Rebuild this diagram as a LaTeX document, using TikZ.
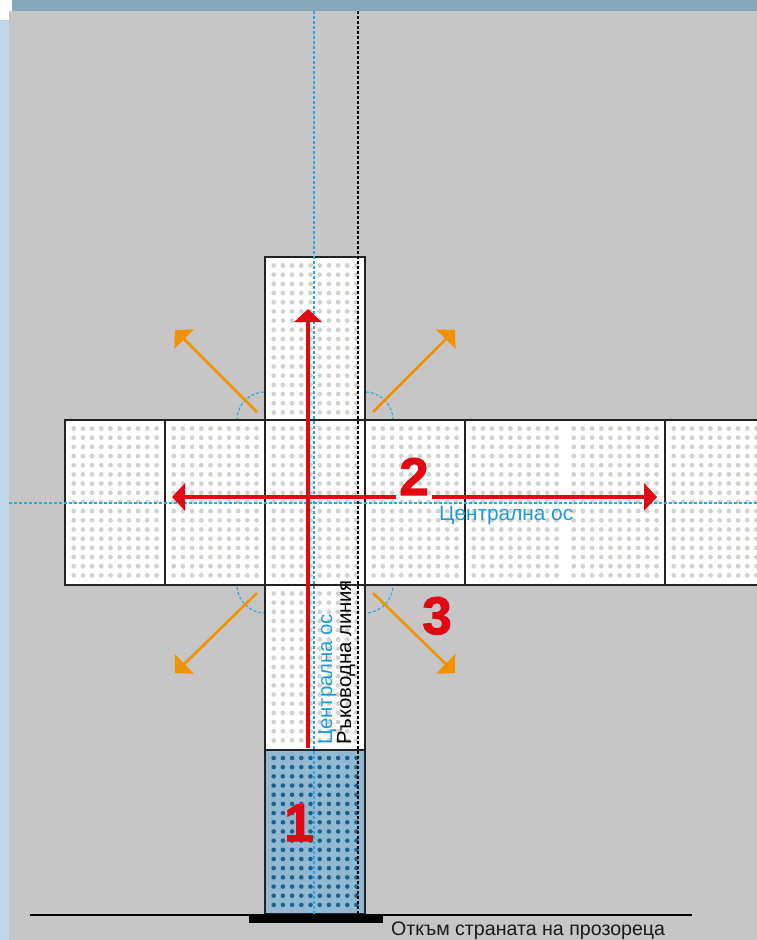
\documentclass[tikz,border=0pt]{standalone}
\usepackage{fontspec}
\setmainfont{Liberation Sans}
\newfontfamily\numfont[FakeBold=2]{Liberation Sans Bold}
\usepackage{tikz}
\usetikzlibrary{arrows.meta}
\definecolor{BgGrey}{RGB}{197,198,197}
\definecolor{TopBand}{RGB}{132,167,185}
\definecolor{SideBlue}{RGB}{190,214,230}
\definecolor{DotGrey}{RGB}{210,210,204}
\definecolor{TileBlue}{RGB}{145,185,210}
\definecolor{DotBlue}{RGB}{29,98,140}
\definecolor{TileEdge}{RGB}{35,35,35}
\definecolor{MarkRed}{RGB}{227,6,19}
\definecolor{ArrowOrange}{RGB}{243,146,0}
\definecolor{AxisBlue}{RGB}{41,167,224}
\definecolor{TextBlue}{RGB}{30,155,215}

\begin{document}
\begin{tikzpicture}[x=1pt, y=-1pt,
	tile/.style={fill=white, draw=TileEdge, line width=1.5pt},
	axis/.style={AxisBlue, line width=1.1pt, dash pattern=on 3pt off 2pt},
	guide/.style={black, line width=1.1pt, dash pattern=on 3pt off 2pt},
	redarrow/.style={MarkRed, line width=3.2pt, -{Triangle[length=13pt, width=27pt]}},
	orangearrow/.style={ArrowOrange, line width=2.6pt, -{Triangle[length=13pt, width=27pt]}},
	num/.style={MarkRed, font=\fontsize{53}{53}\selectfont\numfont, inner sep=0pt},
	label/.style={font=\fontsize{20.3}{20.3}\selectfont, inner sep=0pt}]
		\useasboundingbox (0,0) rectangle (757,940);
		\clip (0,0) rectangle (757,940);
		\fill[TopBand] (12,0) rectangle (757,11);
		\fill[SideBlue] (0,20) rectangle (9,940);
		\fill[BgGrey] (9,11) rectangle (757,940);
		% inner corners of the cross
		\coordinate (K1) at (265,420);
		\coordinate (K2) at (365,420);
		\coordinate (K3) at (365,585);
		\coordinate (K4) at (265,585);
		\foreach \k in {K1,K2,K3,K4}
			\draw[axis] (\k) circle[radius=28pt];
		% tiles
		\foreach \xa/\xb in {65/165,165/265,265/365,365/465,465/665,665/770}
			\draw[tile] (\xa,420) rectangle (\xb,585);
		\draw[tile] (265,257) rectangle (365,420);
		\draw[tile] (265,585) rectangle (365,750);
		\draw[tile, fill=TileBlue] (265,750) rectangle (365,914);
		\foreach \gx/\gy in {65/420,165/420,265/420,365/420,465/420,565/420,665/420,265/257,265/585}
			\foreach \i in {0,...,9}
				\foreach \j in {0,...,16}
					\fill[DotGrey] (\gx+8.7+9.2*\i, \gy+8.5+9.18*\j) circle[radius=2.4pt];
		\foreach \i in {0,...,9}
			\foreach \j in {0,...,16}
				\fill[DotBlue] (273.7+9.2*\i, 758+9.18*\j) circle[radius=2.3pt];
		% axes and guide line
		\draw[axis] (314,11) -- (314,914);
		\draw[guide] (358,11) -- (358,914);
		\draw[axis] (9,503) -- (757,503);
		% window side
		\draw[black, line width=2.2pt] (30,915) -- (692,915);
		\fill[black] (249,914) rectangle (383,923);
		\node[anchor=base west, font=\fontsize{19.6}{19.6}\selectfont, text=black!90, inner sep=0pt] (window) at (391,935) {Откъм страната на прозореца};
		% direction of laying
		\coordinate (redS) at (308,748);
		\coordinate (redN) at (308,309);
		\coordinate (redW) at (172,497);
		\coordinate (redE) at (657,497);
		\draw[redarrow] (redS)--(redN);
		\node[num, inner xsep=3pt, anchor=base] (two) at (414,495) {2};
		\draw[redarrow] (two.west |- redW)--(redW);
		\draw[redarrow] (two.east |- redE)--(redE);
		\coordinate (O1) at (257,412);
		\coordinate (O1t) at (175,330);
		\coordinate (O2) at (373,412);
		\coordinate (O2t) at (455,330);
		\coordinate (O3) at (373,593);
		\coordinate (O3t) at (455,673);
		\coordinate (O4) at (257,593);
		\coordinate (O4t) at (175,673);
		\draw[orangearrow] (O1)--(O1t);
		\draw[orangearrow] (O2)--(O2t);
		\draw[orangearrow] (O3)--(O3t);
		\draw[orangearrow] (O4)--(O4t);
		\node[num, anchor=base] (three) at (437,634) {3};
		\node[num, anchor=base] (one) at (299,841) {1};
		\node[label, rotate=90, anchor=base west, text=TextBlue] (axisV) at (332,745) {Централна ос};
		\node[label, rotate=90, anchor=base west] (guideV) at (351,745) {Ръководна линия};
		\node[label, anchor=base west, text=TextBlue, font=\fontsize{20.8}{20.8}\selectfont] (axisH) at (439,520) {Централна ос};
	\end{tikzpicture}
\end{document}
